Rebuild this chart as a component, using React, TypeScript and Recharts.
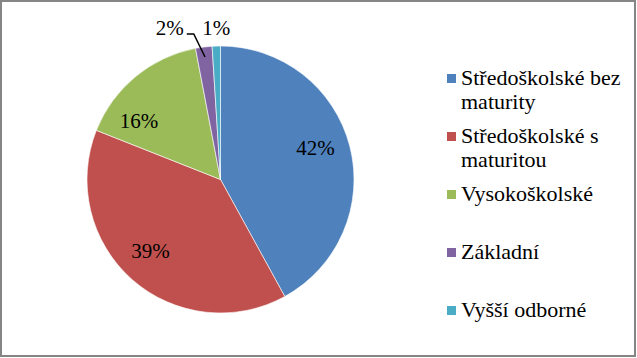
import React from 'react';
import { PieChart, Pie, Cell, Legend } from 'recharts';

// education level shares (%)
const categories = [
  'Středoškolské bez maturity',
  'Středoškolské s maturitou',
  'Vysokoškolské',
  'Základní',
  'Vyšší odborné',
];
const shares = [42, 39, 16, 2, 1];
const COLORS = ['#4F81BD', '#C0504D', '#9BBB59', '#8064A2', '#4BACC6'];

const data = categories.map((name, i) => ({ name, value: shares[i] }));

const FONT = '"Liberation Serif", "Times New Roman", Tinos, serif';
const RADIAN = Math.PI / 180;

const css = `
html body #root div.edu-chart, html body #root div.edu-chart svg text, html body #root div.edu-chart div {
  font-family: ${FONT} !important;
}
`;

const renderLabel = (props: any) => {
  const { cx, cy, midAngle, outerRadius, percent, index } = props;
  const text = `${Math.round(percent * 100)}%`;
  const pt = (r: number, a: number) => ({
    x: cx + r * Math.cos(-a * RADIAN),
    y: cy + r * Math.sin(-a * RADIAN),
  });

  if (percent >= 0.05) {
    // inside labels, nudged like Excel's best fit
    const nudge = index === 2 ? 15 : index === 0 ? 4 : index === 1 ? -3 : 0;
    const p = pt(outerRadius * 0.75, midAngle + nudge);
    return (
      <text x={p.x} y={p.y} fill="#000" fontSize={21} fontFamily={FONT} textAnchor="middle" dominantBaseline="central">
        {text}
      </text>
    );
  }

  const outer = pt(outerRadius, midAngle);
  const ty = cy - outerRadius - 18;
  if (index === 3) {
    const inner = pt(outerRadius - 10, midAngle);
    const elbow = { x: outer.x - 10, y: cy - outerRadius - 12 };
    return (
      <g>
        <polyline
          points={`${inner.x},${inner.y} ${elbow.x},${elbow.y} ${elbow.x - 7},${elbow.y}`}
          fill="none"
          stroke="#000"
          strokeWidth={1.5}
        />
        <text x={elbow.x - 10} y={ty} fill="#000" fontSize={21} fontFamily={FONT} textAnchor="end" dominantBaseline="central">
          {text}
        </text>
      </g>
    );
  }
  return (
    <text x={outer.x} y={ty} fill="#000" fontSize={21} fontFamily={FONT} textAnchor="middle" dominantBaseline="central">
      {text}
    </text>
  );
};

const renderLegend = (props: any) => {
  const payload = [...(props.payload || [])].sort(
    (a: any, b: any) => categories.indexOf(a.value) - categories.indexOf(b.value)
  );
  return (
    <div style={{ fontFamily: FONT, fontSize: 22, lineHeight: '24px', color: '#000' }}>
      {payload.map((entry: any) => (
        <div key={entry.value} style={{ display: 'flex', alignItems: 'flex-start', height: 58 }}>
          <div
            style={{
              width: 9,
              height: 9,
              marginTop: 8,
              marginRight: 5,
              flexShrink: 0,
              backgroundColor: entry.color,
            }}
          />
          <div style={{ width: 160 }}>{entry.value}</div>
        </div>
      ))}
    </div>
  );
};

export default function App() {
  return (
    <div
      className="edu-chart"
      style={{ position: 'absolute', left: 0, top: 0, width: 637, height: 358, background: '#fff', fontFamily: FONT }}
    >
      <style>{css}</style>
      <PieChart width={637} height={358} margin={{ top: 0, right: 0, bottom: 0, left: 0 }}>
        <Pie
          data={data}
          dataKey="value"
          nameKey="name"
          cx={220.5}
          cy={179.5}
          outerRadius={133.5}
          startAngle={90}
          endAngle={-270}
          stroke="#fff"
          strokeWidth={0.6}
          label={renderLabel}
          labelLine={false}
          isAnimationActive={false}
        >
          {data.map((entry, i) => (
            <Cell key={entry.name} fill={COLORS[i]} />
          ))}
        </Pie>
        <Legend
          layout="vertical"
          align="right"
          verticalAlign="top"
          content={renderLegend}
          wrapperStyle={{ left: 447, top: 66, right: 'auto', width: 185 }}
        />
      </PieChart>
      <div
        style={{
          position: 'absolute',
          left: 0,
          top: 0,
          width: 636,
          height: 357,
          boxSizing: 'border-box',
          border: '2px solid #858585',
          pointerEvents: 'none',
        }}
      />
    </div>
  );
}
